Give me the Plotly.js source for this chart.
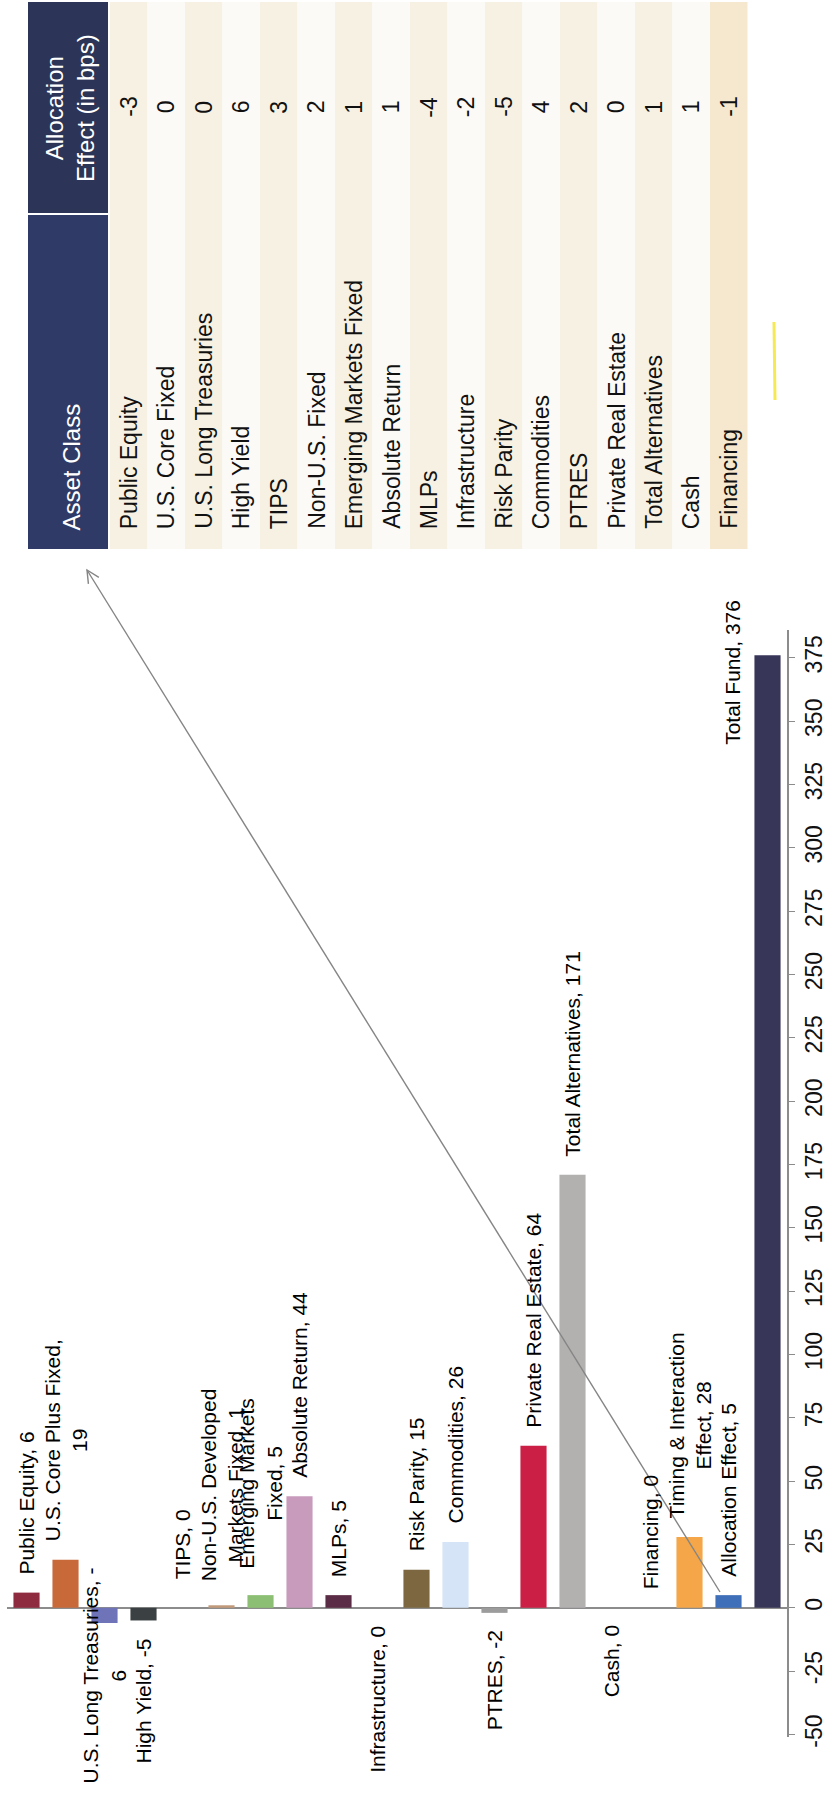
<!DOCTYPE html>
<html>
<head>
<meta charset="utf-8">
<script src="https://cdn.plot.ly/plotly-3.0.1.min.js"></script>
<style>
html,body{margin:0;padding:0;background:#ffffff;}
#chart{width:827px;height:1793px;}
</style>
</head>
<body>
<div id="chart"></div>
<script>
// ---------------- DATA ----------------
const categories = ['Public Equity','U.S. Core Plus Fixed','U.S. Long Treasuries','High Yield','TIPS',
  'Non-U.S. Developed Markets Fixed','Emerging Markets Fixed','Absolute Return','MLPs','Infrastructure',
  'Risk Parity','Commodities','PTRES','Private Real Estate','Total Alternatives','Cash','Financing',
  'Timing & Interaction Effect','Allocation Effect','Total Fund'];
const values = [6,19,-6,-5,0,1,5,44,5,0,15,26,-2,64,171,0,0,28,5,376];
const barLabels = ['Public Equity, 6','U.S. Core Plus Fixed,<br>19','U.S. Long Treasuries, -<br>6','High Yield, -5','TIPS, 0',
  'Non-U.S. Developed<br>Markets Fixed, 1','Emerging Markets<br>Fixed, 5','Absolute Return, 44','MLPs, 5','Infrastructure, 0',
  'Risk Parity, 15','Commodities, 26','PTRES, -2','Private Real Estate, 64','Total Alternatives, 171','Cash, 0','Financing, 0',
  'Timing & Interaction<br>Effect, 28','Allocation Effect, 5','Total Fund, 376'];

const tableClasses = ['Public Equity','U.S. Core Fixed','U.S. Long Treasuries','High Yield','TIPS','Non-U.S. Fixed',
  'Emerging Markets Fixed','Absolute Return','MLPs','Infrastructure','Risk Parity','Commodities','PTRES',
  'Private Real Estate','Total Alternatives','Cash','Financing'];
const allocEffect = [-3,0,0,6,3,2,1,1,-4,-2,-5,4,2,0,1,1,-1];
const tableHeaders = ['Allocation<br>Effect (in bps)','Asset Class'];
const yTicks = [-50,-25,0,25,50,75,100,125,150,175,200,225,250,275,300,325,350,375];

// ---------------- STYLE ----------------
const barColors = ['#8e2b3f','#c8693a','#6f73b8','#3b4142','#a0a0a0','#c29a7a','#8cbf73','#c89bbd','#5b2c45','#888888',
  '#7d6740','#d5e4f7','#9c9c9c','#cc1f45','#b3b0b0','#b0b0b0','#a0a0a0','#f4a648','#3f6fb8','#373558'];
// which zero-valued labels sit under the axis line
const zeroLabelBelow = {'Infrastructure':true,'Cash':true};
// special label placement tweaks (style only)
const labelAdjust = {
  'U.S. Long Treasuries': {yanchor:'middle', yshift:-53},
  'TIPS': {yshift:26},
  'Emerging Markets Fixed': {yshift:24},
  'Non-U.S. Developed Markets Fixed': {yshift:22},
  'Total Fund': {yanchor:'middle', yshift:-17, xshift:-35}
};
const FONT = 'Liberation Sans, Arial, sans-serif';
const W = 827, H = 1793;
const M = {l:7, r:40, t:630, b:56};
const PW = W - M.l - M.r, PH = H - M.t - M.b;
const px = x => (x - M.l) / PW;
const py = y => (H - M.b - y) / PH;

// ---------------- TRACE ----------------
const trace = {
  type:'bar', x:categories, y:values,
  marker:{color:barColors, line:{width:0}},
  hoverinfo:'x+y', showlegend:false
};

const annotations = [];
categories.forEach((c,i) => {
  const v = values[i];
  const below = v < 0 || (v === 0 && zeroLabelBelow[c]);
  const a = {
    x:c, y:v, xref:'x', yref:'y', text:barLabels[i], showarrow:false, textangle:-90,
    font:{family:FONT, size:21, color:'#000000'}, align:'center',
    xanchor:'center', yanchor: below ? 'top' : 'bottom', yshift: below ? -16 : 16
  };
  Object.assign(a, labelAdjust[c] || {});
  annotations.push(a);
});

// ---------------- TABLE (rotated) ----------------
const shapes = [];
const rowX0 = 110, rowW = 37.5, tTop = 2, tBot = 549, hdrSplit = 214;
shapes.push({type:'rect', xref:'paper', yref:'paper', x0:px(28), x1:px(108), y0:py(tTop), y1:py(hdrSplit-1),
  fillcolor:'#2c3557', line:{width:0}, layer:'below'});
shapes.push({type:'rect', xref:'paper', yref:'paper', x0:px(28), x1:px(108), y0:py(hdrSplit+1), y1:py(tBot),
  fillcolor:'#2f3b66', line:{width:0}, layer:'below'});
tableClasses.forEach((name,i) => {
  const x0 = rowX0 + rowW*i, x1 = x0 + rowW, xc = (x0+x1)/2;
  const fill = (i === tableClasses.length-1) ? '#f5e8cf' : (i % 2 === 0 ? '#f7f1e4' : '#fbfaf6');
  shapes.push({type:'rect', xref:'paper', yref:'paper', x0:px(x0), x1:px(x1), y0:py(tTop), y1:py(tBot),
    fillcolor:fill, line:{width:0}, layer:'below'});
  annotations.push({x:px(xc), y:py(107), xref:'paper', yref:'paper', text:String(allocEffect[i]),
    showarrow:false, textangle:-90, font:{family:FONT, size:23, color:'#111111'}, xanchor:'center', yanchor:'middle'});
  annotations.push({x:px(xc), y:py(531), xref:'paper', yref:'paper', text:name,
    showarrow:false, textangle:-90, font:{family:FONT, size:23, color:'#111111'}, xanchor:'center', yanchor:'bottom'});
});
annotations.push({x:px(70), y:py(108), xref:'paper', yref:'paper', text:tableHeaders[0], showarrow:false,
  textangle:-90, font:{family:FONT, size:24, color:'#ffffff'}, xanchor:'center', yanchor:'middle', align:'center'});
annotations.push({x:px(71), y:py(533), xref:'paper', yref:'paper', text:tableHeaders[1], showarrow:false,
  textangle:-90, font:{family:FONT, size:24, color:'#ffffff'}, xanchor:'center', yanchor:'bottom'});

// arrow from the Allocation Effect bar to the table header
const tip = [87,570], tail = [720,1592];
shapes.push({type:'line', xref:'paper', yref:'paper', x0:px(tail[0]), y0:py(tail[1]), x1:px(tip[0]), y1:py(tip[1]),
  line:{color:'#858585', width:1.4}});
(function(){
  const dx = tail[0]-tip[0], dy = tail[1]-tip[1], L = Math.hypot(dx,dy);
  const bx = dx/L, by = dy/L, len = 14, a = 26*Math.PI/180;
  const p1 = [tip[0] + len*(bx*Math.cos(a) - by*Math.sin(a)), tip[1] + len*(bx*Math.sin(a) + by*Math.cos(a))];
  const p2 = [tip[0] + len*(bx*Math.cos(-a) - by*Math.sin(-a)), tip[1] + len*(bx*Math.sin(-a) + by*Math.cos(-a))];
  shapes.push({type:'path', xref:'paper', yref:'paper',
    path:`M${px(p1[0])},${py(p1[1])} L${px(tip[0])},${py(tip[1])} L${px(p2[0])},${py(p2[1])}`,
    line:{color:'#858585', width:1.4}});
})();
// faint highlighter streak from the scan
shapes.push({type:'line', xref:'paper', yref:'paper', x0:px(774), y0:py(322), x1:px(775), y1:py(400),
  line:{color:'#f2e21c', width:3}, opacity:0.75});

const layout = {
  width:W, height:H, margin:M, paper_bgcolor:'#ffffff', plot_bgcolor:'rgba(0,0,0,0)',
  bargap:0.33, showlegend:false,
  font:{family:FONT, color:'#1a1a1a'},
  xaxis:{type:'category', range:[-0.5,19.5], showticklabels:false, showline:false, ticks:'', showgrid:false, zeroline:false, fixedrange:true},
  yaxis:{side:'right', range:[-51,386], tickvals:yTicks, ticktext:yTicks.map(String), tickangle:-90,
    showline:true, linecolor:'#8c8c8c', linewidth:1.5, ticks:'outside', ticklen:6, tickcolor:'#8c8c8c', tickwidth:1.2,
    showgrid:false, zeroline:true, zerolinecolor:'#8c8c8c', zerolinewidth:1.5,
    tickfont:{family:FONT, size:23, color:'#111111'}, fixedrange:true},
  shapes:shapes, annotations:annotations
};

Plotly.newPlot('chart', [trace], layout, {displayModeBar:false, staticPlot:true});
</script>
</body>
</html>
